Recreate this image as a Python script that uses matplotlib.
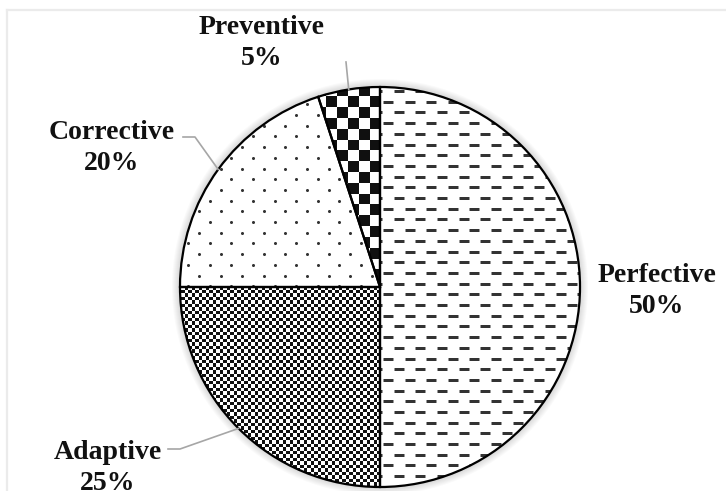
"""Pie chart of maintenance types, black & white patterns (print style)."""
import numpy as np
import matplotlib

matplotlib.use("Agg")
import matplotlib.pyplot as plt  # noqa: E402

# Data
categorias = ["Perfective", "Adaptive", "Corrective", "Preventive"]
percentuais = [50, 25, 20, 5]

W, H = 726, 491
CX, CY, R = 380, 491 - 287, 200
FONTE = ["Liberation Serif", "DejaVu Serif"]

fig = plt.figure(figsize=(W / 100, H / 100), dpi=100)
ax = fig.add_axes([0, 0, 1, 1])

# moldura clara (só topo e esquerda aparecem)
ax.plot([7, W], [H - 10, H - 10], color="#ebebeb", lw=1.6, zorder=0)
ax.plot([7, 7], [H - 10, 0], color="#ebebeb", lw=1.6, zorder=0)

# sombra suave em volta da pizza + fundo branco
for k in range(1, 9):
    ax.add_patch(plt.Circle((CX, CY), R + k, color="#000000", alpha=0.018, lw=0, zorder=1))
ax.add_patch(plt.Circle((CX, CY), R, color="white", lw=0, zorder=1.5))

wedges, _ = ax.pie(percentuais, startangle=90, counterclock=False, center=(CX, CY),
                   radius=R, colors=["none"] * 4, frame=True,
                   wedgeprops=dict(edgecolor="black", linewidth=1.6, zorder=3))
ax.set_xlim(0, W)
ax.set_ylim(0, H)
ax.set_aspect("equal")
ax.axis("off")


def grade(dx, dy, x0, y0):
    xs, ys = [], []
    for i, y in enumerate(np.arange(y0, H, dy)):
        off = (dx / 2) if i % 2 else 0
        for x in np.arange(x0 + off - dx * 40, W + dx, dx):
            xs.append(x)
            ys.append(y)
    return np.array(xs), np.array(ys)


def xadrez(w, cel, x0, y0):
    nx = int(2 * R / cel) + 4
    arr = (np.add.outer(np.arange(nx), np.arange(nx)) % 2).astype(float)
    ext = (x0, x0 + nx * cel, y0, y0 + nx * cel)
    im = ax.imshow(arr, cmap="gray_r", vmin=0, vmax=1.07, extent=ext,
                   interpolation="nearest", origin="lower", zorder=2)
    im.set_clip_path(w)


# Perfective: tracinhos
xs, ys = grade(21.6, 10.7, 388, (491 - 101.7) % 10.7)
ln, = ax.plot(xs, ys, ls="none", marker="_", ms=7.2, mew=2.1, color="#333333", zorder=2)
ln.set_clip_path(wedges[0])

# Adaptive: xadrez miúdo
xadrez(wedges[1], 3.5, CX - R - 2, CY - R - 2)

# Corrective: pontinhos
xs, ys = grade(21.6, 10.7, 199, (491 - 115) % 10.7)
pt, = ax.plot(xs, ys, ls="none", marker="o", ms=2.2, mew=0, color="#333333", zorder=2)
pt.set_clip_path(wedges[2])

# Preventive: xadrez graúdo
xadrez(wedges[3], 10.8, CX - 10.8 * 38, CY + R + 1 - 10.8 * 38)

ax.set_xlim(0, W)
ax.set_ylim(0, H)

# Rótulos com linha de chamada
pos_rotulo = {
    "Perfective": (657, 491 - 291),
    "Adaptive": (108, 491 - 468),
    "Corrective": (112, 491 - 148),
    "Preventive": (262, 491 - 43),
}
chamadas = {
    "Adaptive": [(168, 491 - 449), (180, 491 - 449)],
    "Corrective": [(183, 491 - 137), (195, 491 - 137)],
    "Preventive": [(346, 491 - 62)],
}
for w, nome, p in zip(wedges, categorias, percentuais):
    tx, ty = pos_rotulo[nome]
    ax.text(tx, ty, f"{nome}\n{p}%", ha="center", va="center", fontsize=20,
            fontweight="bold", family=FONTE, color="#111111", linespacing=1.3, zorder=5)
    if nome in chamadas:
        meio = np.radians((w.theta1 + w.theta2) / 2)
        borda = (CX + R * np.cos(meio), CY + R * np.sin(meio))
        pts = chamadas[nome] + [borda]
        ax.plot([q[0] for q in pts], [q[1] for q in pts], color="#a6a6a6", lw=1.2, zorder=4)

fig.savefig("out.png", dpi=100, facecolor="white")
